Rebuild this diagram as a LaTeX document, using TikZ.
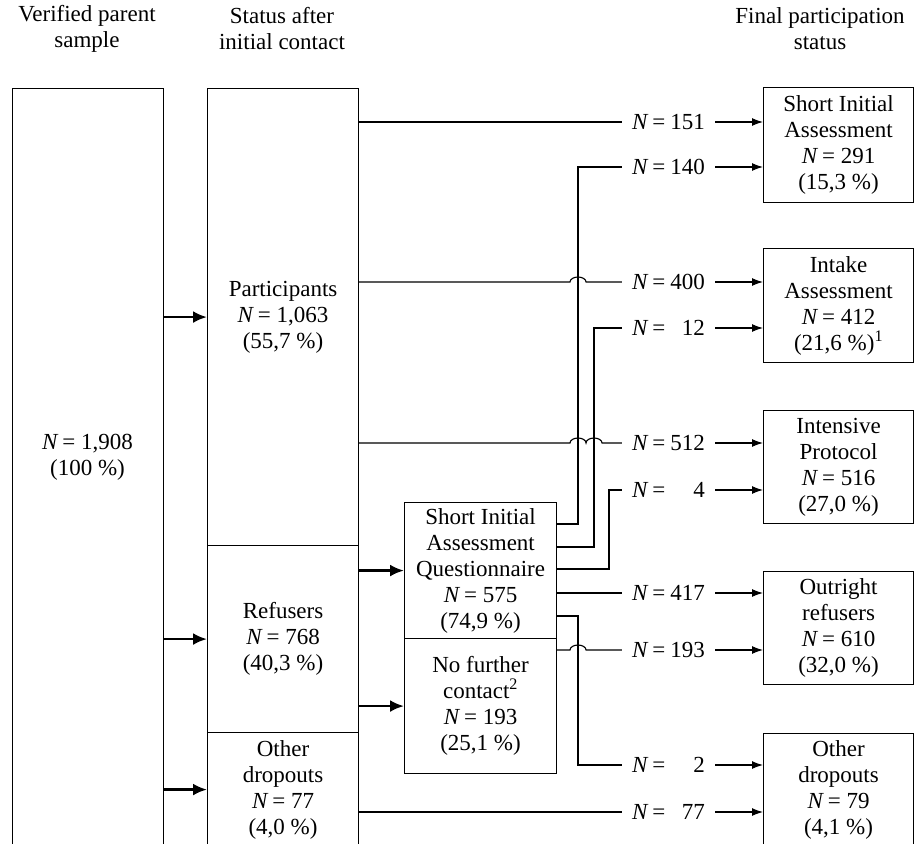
\documentclass[tikz,border=0pt]{standalone}
\usepackage{fontspec}
\setmainfont{Liberation Serif}
\usetikzlibrary{arrows.meta}
\newcommand{\nlab}[1]{\makebox[73pt]{\textit{N}\,=\hfill #1}}
\newcommand{\NN}{\textit{N}\,=}
\begin{document}
\begin{tikzpicture}[x=1pt,y=-1pt,
  every node/.style={font=\fontsize{23}{26}\selectfont},
  box/.style={draw, line width=1.1pt, align=center, inner sep=0pt, anchor=north west},
  ln/.style={line width=1.1pt, line join=miter},
  arr/.style={line width=1.1pt, -{Latex[length=11pt,width=8pt]}},
  thk/.style={line width=2.6pt, -{Latex[length=14pt,width=12pt]}},
  lab/.style={inner xsep=10pt, inner ysep=2pt},
  hdr/.style={align=center},
  jmp/.style={}]
\useasboundingbox (0,0) rectangle (920,843);
\clip (0,0) rectangle (920,843);

% headers
\node[hdr] (h1) at (87,29) {Verified parent\\sample};
\node[hdr] (h2) at (282,29) {Status after\\initial contact};
\node[hdr] (h3) at (820,29) {Final participation\\status};

% column 1
\node[box, minimum width=151pt, minimum height=758pt] (big) at (12,88) {};
\node[align=center] (bigt) at (87.5,457) {\NN{} 1,908\\(100 \%)};

% column 2
\node[box, minimum width=151pt, minimum height=457pt] (part) at (207,88) {Participants\\\NN{} 1,063\\(55,7 \%)};
\node[box, minimum width=151pt, minimum height=187pt] (ref) at (207,545) {Refusers\\\NN{} 768\\(40,3 \%)};
\node[box, minimum width=151pt, minimum height=114pt] (oth) at (207,732) {Other\\dropouts\\\NN{} 77\\(4,0 \%)};

% column 3
\node[box, minimum width=152pt, minimum height=136pt] (q) at (404,502) {Short Initial\\Assessment\\Questionnaire\\\NN{} 575\\(74,9 \%)};
\node[box, minimum width=152pt, minimum height=135pt] (n) at (404,638) {No further\\contact\textsuperscript{2}\\\NN{} 193\\(25,1 \%)};

% final column
\node[box, minimum width=150pt, minimum height=115pt] (r1) at (763,87) {Short Initial\\Assessment\\\NN{} 291\\(15,3 \%)};
\node[box, minimum width=150pt, minimum height=114pt] (r2) at (763,248) {Intake\\Assessment\\\NN{} 412\\(21,6 \%)\textsuperscript{1}};
\node[box, minimum width=150pt, minimum height=113pt] (r3) at (763,410) {Intensive\\Protocol\\\NN{} 516\\(27,0 \%)};
\node[box, minimum width=150pt, minimum height=113pt] (r4) at (763,571) {Outright\\refusers\\\NN{} 610\\(32,0 \%)};
\node[box, minimum width=150pt, minimum height=113pt] (r5) at (763,733) {Other\\dropouts\\\NN{} 79\\(4,1 \%)};

% flow labels
\node[lab] (l151) at (668.5,122) {\nlab{151}};
\node[lab] (l140) at (668.5,167) {\nlab{140}};
\node[lab] (l400) at (668.5,282) {\nlab{400}};
\node[lab] (l12)  at (668.5,328) {\nlab{12}};
\node[lab] (l512) at (668.5,443) {\nlab{512}};
\node[lab] (l4)   at (668.5,490) {\nlab{4}};
\node[lab] (l417) at (668.5,593) {\nlab{417}};
\node[lab] (l193) at (668.5,650) {\nlab{193}};
\node[lab] (l2)   at (668.5,765) {\nlab{2}};
\node[lab] (l77)  at (668.5,812) {\nlab{77}};

% vertical routing columns
\coordinate (v1) at (578,0);
\coordinate (v2) at (594,0);
\coordinate (v3) at (609,0);
\coordinate (j1) at (570,0);

% thick arrows
\draw[thk] (part.west -| big.east) -- (part.west);
\draw[thk] (ref.west -| big.east) -- (ref.west);
\draw[thk] (oth.west -| big.east) -- (oth.west);
\draw[thk] (q.west -| ref.east) -- (q.west);
\draw[thk] (n.west -| ref.east) -- (n.west);

% lines from participants
\draw[ln] (part.east |- l151.west) -- (l151.west);
\draw[ln] (part.east |- l400.west) -- (j1 |- l400.west)
  arc[start angle=180,end angle=0,x radius=8pt,y radius=5pt] -- (l400.west);
\draw[ln] (part.east |- l512.west) -- (j1 |- l512.west)
  arc[start angle=180,end angle=0,x radius=8pt,y radius=5pt]
  arc[start angle=180,end angle=0,x radius=8pt,y radius=5pt] -- (l512.west);

% lines from questionnaire
\draw[ln] ([yshift=-22pt]q.north east) -| (l140.west -| v1) -- (l140.west);
\draw[ln] ([yshift=-45pt]q.north east) -| (l12.west -| v2) -- (l12.west);
\draw[ln] ([yshift=-67pt]q.north east) -| (l4.west -| v3) -- (l4.west);
\draw[ln] (q.east |- l417.west) -- (l417.west);
\draw[ln] ([yshift=-114pt]q.north east) -| (l2.west -| v1) -- (l2.west);

% line from no further contact
\draw[ln] (n.east |- l193.west) -- (j1 |- l193.west)
  arc[start angle=180,end angle=0,x radius=8pt,y radius=5pt] -- (l193.west);

% line from other dropouts
\draw[ln] (oth.east |- l77.west) -- (l77.west);

% arrows into final boxes
\draw[arr] (l151.east) -- (l151.east -| r1.west);
\draw[arr] (l140.east) -- (l140.east -| r1.west);
\draw[arr] (l400.east) -- (l400.east -| r2.west);
\draw[arr] (l12.east) -- (l12.east -| r2.west);
\draw[arr] (l512.east) -- (l512.east -| r3.west);
\draw[arr] (l4.east) -- (l4.east -| r3.west);
\draw[arr] (l417.east) -- (l417.east -| r4.west);
\draw[arr] (l193.east) -- (l193.east -| r4.west);
\draw[arr] (l2.east) -- (l2.east -| r5.west);
\draw[arr] (l77.east) -- (l77.east -| r5.west);
\end{tikzpicture}
\end{document}
